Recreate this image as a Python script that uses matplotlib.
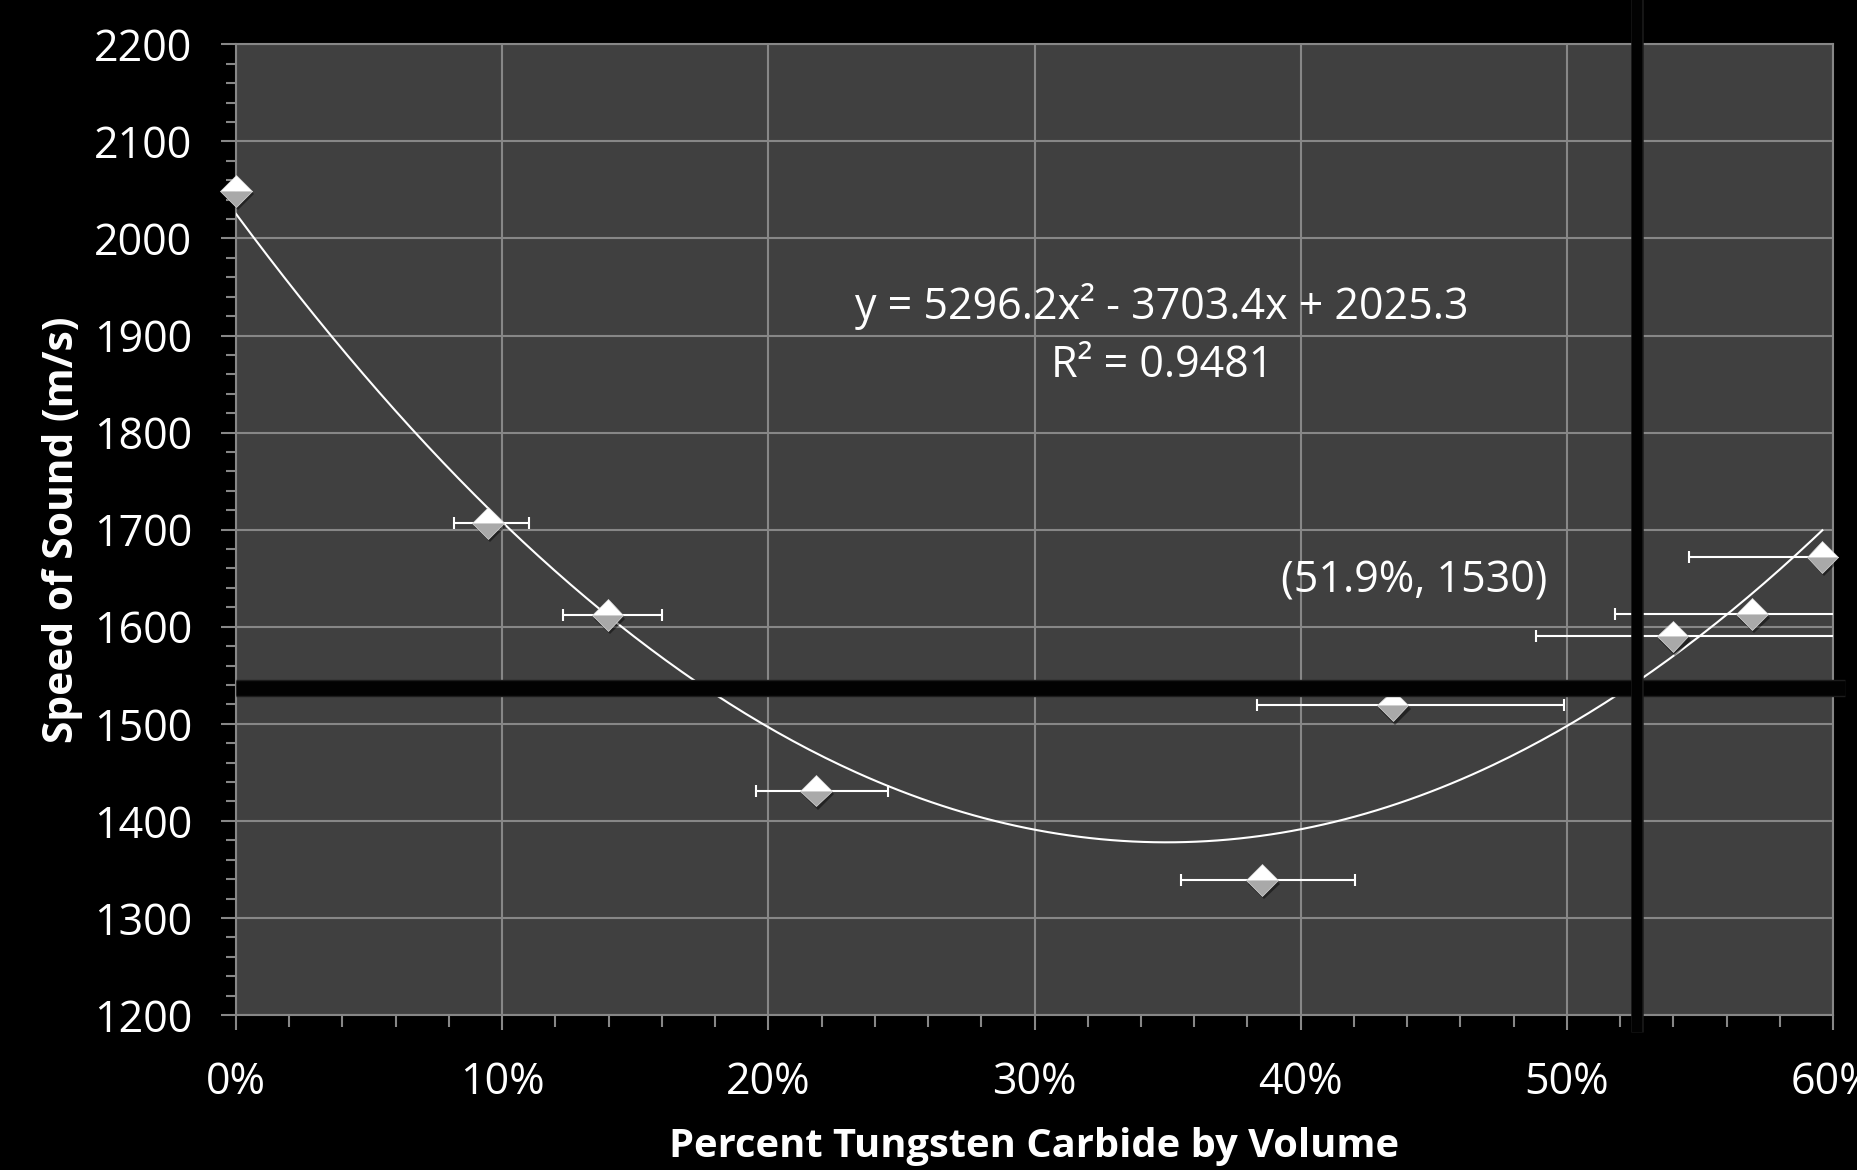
import numpy as np
import matplotlib
matplotlib.use("Agg")
import matplotlib.pyplot as plt
from matplotlib.ticker import MultipleLocator, PercentFormatter
import matplotlib.patheffects as pe

plt.rcParams['font.family'] = ['Open Sans', 'DejaVu Sans']

# ---- data ----
tungsten_pct = [0.00, 9.46, 13.96, 21.79, 38.54, 43.46, 53.98, 56.96, 59.60]
speed_ms = [2049, 1707, 1612, 1431, 1339, 1519, 1590, 1613, 1672]
# horizontal error-bar ends (percent); first point has none
err_low_pct = [np.nan, 8.19, 12.29, 19.53, 35.49, 38.37, 48.84, 51.81, 54.59]
err_high_pct = [np.nan, 11.00, 16.01, 24.49, 42.06, 49.88, 63.0, 63.0, 65.0]

# trendline coefficients (x as fraction)
trend_a, trend_b, trend_c = 5296.2, -3703.4, 2025.3
trend_r2 = 0.9481

# crosshair lines
cross_x_pct = 52.64
cross_y = 1537
cross_label = "(51.9%, 1530)"

x_ticks_pct = [0, 10, 20, 30, 40, 50, 60]
y_ticks = [1200, 1300, 1400, 1500, 1600, 1700, 1800, 1900, 2000, 2100, 2200]

# ---- figure ----
W, H = 1857, 1170
fig = plt.figure(figsize=(W / 100, H / 100), dpi=100, facecolor='black')
ax = fig.add_axes([236 / W, 155 / H, 1597 / W, 970.7 / H])
ax.set_facecolor('#404040')

x = np.array(tungsten_pct) / 100
y = np.array(speed_ms, dtype=float)
lo = np.array(err_low_pct) / 100
hi = np.array(err_high_pct) / 100

ax.set_xlim(0, 0.6)
ax.set_ylim(1200, 2200)
ax.set_xticks(np.array(x_ticks_pct) / 100)
ax.set_yticks(y_ticks)
ax.xaxis.set_minor_locator(MultipleLocator(0.02))
ax.yaxis.set_minor_locator(MultipleLocator(20))
ax.xaxis.set_major_formatter(PercentFormatter(xmax=1, decimals=0))

gridc = '#878787'
ax.grid(True, which='major', color=gridc, lw=1.5, zorder=0)
ax.set_axisbelow(True)
for s in ax.spines.values():
    s.set_color(gridc)
    s.set_linewidth(1.5)

ax.tick_params(axis='both', which='both', direction='out', color=gridc, width=1.5,
               labelcolor='white', labelsize=31)
ax.tick_params(axis='y', which='major', length=10.5, pad=21)
ax.tick_params(axis='y', which='minor', length=7)
ax.tick_params(axis='x', which='major', length=10.5, pad=22)
ax.tick_params(axis='x', which='minor', length=8.5)

# trendline
xs = np.linspace(0, x.max(), 300)
ax.plot(xs, trend_a * xs**2 + trend_b * xs + trend_c, color='white', lw=1.5, zorder=3)

# error bars
m = ~np.isnan(lo)
ax.errorbar(x[m], y[m], xerr=[x[m] - lo[m], hi[m] - x[m]], fmt='none',
            ecolor='white', elinewidth=1.5, capsize=4.5, capthick=1.5, zorder=4)

# markers
ax.plot(x, y, linestyle='none', marker='D', ms=16, mfc='white', mfcalt='#a9a9a9',
        fillstyle='top', mec='#d8d8d8', mew=0.5, zorder=5, clip_on=False,
        path_effects=[pe.SimplePatchShadow(offset=(1.5, -2.5), shadow_rgbFace='black', alpha=0.45),
                      pe.Normal()])

# trendline label
ax.text(0.3479, 1900, f"y = {trend_a}x² - {abs(trend_b)}x + {trend_c}\nR² = {trend_r2}",
        ha='center', va='center', multialignment='center', color='white',
        fontsize=31, linespacing=1.38, zorder=6)

ax.text(0.4426, 1647, cross_label, ha='center', va='center', color='white', fontsize=31, zorder=6)

# crosshair bars
bar_fx = [pe.Stroke(linewidth=12.5, foreground='#1c1c1c'), pe.Normal()]
ax.axhline(cross_y, xmin=0, xmax=1.0075, color='#020202', lw=10.5, clip_on=False,
           solid_capstyle='butt', zorder=10, path_effects=bar_fx)
bar_fx2 = [pe.Stroke(linewidth=9, foreground='#1c1c1c'), pe.Normal()]
ax.axvline(cross_x_pct / 100, ymin=-0.0175, ymax=1.05, color='#020202', lw=7.5, clip_on=False,
           solid_capstyle='butt', zorder=11, path_effects=bar_fx2)

ax.set_xlabel('Percent Tungsten Carbide by Volume', color='white', fontsize=28.7, fontweight='bold')
ax.set_ylabel('Speed of Sound (m/s)', color='white', fontsize=29.3, fontweight='bold')
ax.xaxis.set_label_coords(0.5, -0.115)
ax.yaxis.set_label_coords(-0.096, 0.5)

fig.savefig('out.png', dpi=100, facecolor='black')
